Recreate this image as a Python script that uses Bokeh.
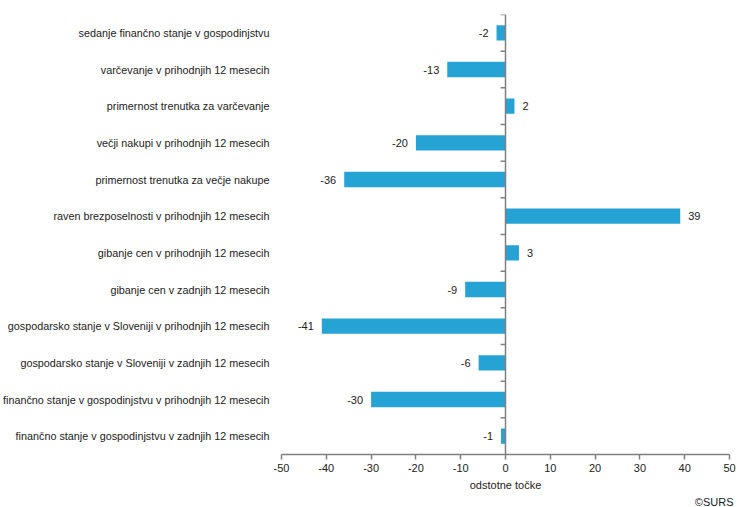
from bokeh.plotting import figure
from bokeh.models import Range1d, FixedTicker, ColumnDataSource, Span, Title, LinearAxis
from bokeh.embed import file_html
from bokeh.resources import INLINE
from bokeh.core.properties import value

categories = [
    "sedanje finančno stanje v gospodinjstvu",
    "varčevanje v prihodnjih 12 mesecih",
    "primernost trenutka za varčevanje",
    "večji nakupi v prihodnjih 12 mesecih",
    "primernost trenutka za večje nakupe",
    "raven brezposelnosti v prihodnjih 12 mesecih",
    "gibanje cen v prihodnjih 12 mesecih",
    "gibanje cen v zadnjih 12 mesecih",
    "gospodarsko stanje v Sloveniji v prihodnjih 12 mesecih",
    "gospodarsko stanje v Sloveniji v zadnjih 12 mesecih",
    "finančno stanje v gospodinjstvu v prihodnjih 12 mesecih",
    "finančno stanje v gospodinjstvu v zadnjih 12 mesecih",
]
values = [-2, -13, 2, -20, -36, 39, 3, -9, -41, -6, -30, -1]
x_ticks = [-50, -40, -30, -20, -10, 0, 10, 20, 30, 40, 50]
x_title = "odstotne točke"
credit = "©SURS"

FONT = "Liberation Sans"
TXT = "#222222"
AXIS = "#808080"
BAR = "#26A3D5"

n = len(categories)
ypos = [n - i - 0.5 for i in range(n)]

p = figure(
    frame_width=448, frame_height=440,
    x_range=Range1d(x_ticks[0], x_ticks[-1]), y_range=Range1d(0, n),
    output_backend="svg", toolbar_location=None,
    min_border_left=280, min_border_right=10, min_border_top=14, min_border_bottom=10,
    x_axis_location=None, y_axis_location=None,
)
p.outline_line_color = None
p.xgrid.grid_line_color = None
p.ygrid.grid_line_color = None
p.background_fill_color = "white"
p.border_fill_color = "white"

src = ColumnDataSource(dict(y=ypos, v=values))
p.hbar(y="y", right="v", left=0, height=0.42, source=src, color=BAR, line_color=None)

pos = ColumnDataSource(dict(y=[y for y, v in zip(ypos, values) if v >= 0],
                            v=[v for v in values if v >= 0],
                            lab=[str(v) for v in values if v >= 0]))
neg = ColumnDataSource(dict(y=[y for y, v in zip(ypos, values) if v < 0],
                            v=[v for v in values if v < 0],
                            lab=[str(v) for v in values if v < 0]))
p.text(x="v", y="y", text="lab", source=pos, x_offset=8, text_align="left",
       text_baseline="middle", text_font=value(FONT), text_font_size="11px", text_color=TXT)
p.text(x="v", y="y", text="lab", source=neg, x_offset=-8, text_align="right",
       text_baseline="middle", text_font=value(FONT), text_font_size="11px", text_color=TXT)

# vertical zero axis with ticks between categories
p.add_layout(Span(location=0, dimension="height", line_color=AXIS, line_width=1.5))
bounds = list(range(1, n + 1))
p.segment(x0=[-1.1] * len(bounds), x1=[0] * len(bounds), y0=bounds, y1=bounds,
          line_color=AXIS, line_width=1.5)

yax = LinearAxis(
    ticker=FixedTicker(ticks=ypos),
    major_label_overrides={y: c for y, c in zip(ypos, categories)},
    axis_line_color=None, major_tick_line_color=None, minor_tick_line_color=None,
    major_label_text_font=FONT, major_label_text_font_size="10.8px",
    major_label_text_color=TXT, major_label_standoff=6,
)
p.add_layout(yax, "left")

xax = LinearAxis(
    ticker=FixedTicker(ticks=x_ticks),
    major_label_overrides={t: str(t) for t in x_ticks},
    axis_line_color=AXIS, axis_line_width=1.5,
    major_tick_line_color=AXIS, major_tick_line_width=1.5,
    major_tick_in=0, major_tick_out=5, minor_tick_line_color=None,
    major_label_text_font=FONT, major_label_text_font_size="11px",
    major_label_text_color=TXT, major_label_standoff=4,
    axis_label=x_title, axis_label_text_font=FONT, axis_label_text_font_size="11px",
    axis_label_text_font_style="normal", axis_label_text_color=TXT,
    axis_label_standoff=4,
)
p.add_layout(xax, "below")

p.add_layout(Title(text=credit, align="right", text_font=FONT, text_font_size="11px",
                   text_font_style="normal", text_color=TXT, standoff=0, offset=-4,
                   text_line_height=0.6), "below")

open("out.html", "w").write(file_html(p, INLINE))
